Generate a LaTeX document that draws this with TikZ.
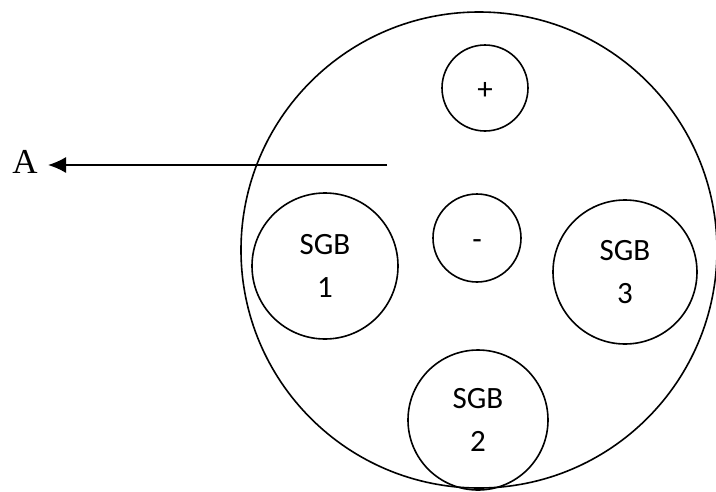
\documentclass[tikz,border=0pt]{standalone}
\usepackage{fontspec}
\setmainfont{Carlito}
\newfontfamily\serifA{Liberation Serif}
\usetikzlibrary{arrows.meta}
\begin{document}
\begin{tikzpicture}[x=1pt,y=-1pt,
  ring/.style={circle,draw,line width=1.6pt,inner sep=0pt,align=center},
  lbl/.style={font=\fontsize{31}{43}\selectfont}]
\useasboundingbox (0,0) rectangle (716,491);
\node[ring,minimum size=476pt] (big) at (479,250) {};
\node[ring,minimum size=86pt,lbl] (plus) at (485,88) {\smash{\raisebox{-11pt}{+}}};
\node[ring,minimum size=88pt,lbl] (minus) at (477,238) {\smash{\raisebox{-11pt}{-}}};
\node[ring,minimum size=146pt,lbl] (sgb1) at (325,266) {SGB\\1};
\node[ring,minimum size=144pt,lbl] (sgb3) at (625,272) {SGB\\3};
\node[ring,minimum size=140pt,lbl] (sgb2) at (478,420) {SGB\\2};
\node[font=\serifA\fontsize{35}{35}\selectfont,inner sep=0pt] (A) at (25,162) {A};
\coordinate (start) at (387,165);
\draw[line width=1.6pt,-{Latex[length=18pt,width=16pt]}] (start) -- (48,165);
\end{tikzpicture}
\end{document}
